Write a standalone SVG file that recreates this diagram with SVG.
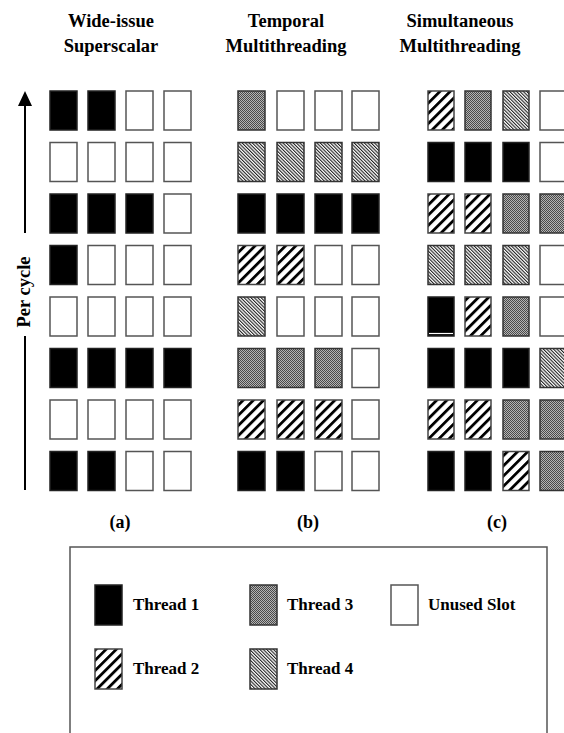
<svg xmlns="http://www.w3.org/2000/svg" width="564" height="733" viewBox="0 0 564 733">
<style>
text{font-family:"Liberation Serif","Times New Roman",serif;font-weight:bold;fill:#000}
.title{font-size:18.5px;text-anchor:middle}
.lab{font-size:18px;text-anchor:middle}
.leg{font-size:17px}
.c{stroke-width:1.5}
.t1{fill:#000;stroke:#222}
.t2{fill:url(#p2);stroke:#444}
.t3{fill:url(#p3);stroke:#333}
.t4{fill:url(#p4);stroke:#333}
.u{fill:#fff;stroke:#555}
</style>
<defs>
<pattern id="p2" patternUnits="userSpaceOnUse" width="7.2" height="7.2" patternTransform="rotate(45)">
<rect width="7.2" height="7.2" fill="#fff"/>
<rect width="2.8" height="7.2" fill="#000"/>
</pattern>
<pattern id="p3" patternUnits="userSpaceOnUse" width="2" height="2">
<rect width="2" height="2" fill="#b4b4b4"/>
<rect width="1" height="1" fill="#4a4a4a"/>
<rect x="1" y="1" width="1" height="1" fill="#4a4a4a"/>
</pattern>
<pattern id="p4" patternUnits="userSpaceOnUse" width="2.4" height="2.4" patternTransform="rotate(-45)">
<rect width="2.4" height="2.4" fill="#fff"/>
<rect width="1.1" height="2.4" fill="#222"/>
</pattern>
</defs>

<g id="titles">
<text class="title" x="111" y="27">Wide-issue</text>
<text class="title" x="111" y="52">Superscalar</text>
<text class="title" x="286" y="27">Temporal</text>
<text class="title" x="286" y="52">Multithreading</text>
<text class="title" x="460" y="27">Simultaneous</text>
<text class="title" x="460" y="52">Multithreading</text>
</g>

<g id="connectors">
<line x1="25" y1="233" x2="25" y2="104" stroke="#000" stroke-width="2"/>
<polygon points="25,91 18,106 32,106" fill="#000"/>
<line x1="25" y1="336" x2="25" y2="490" stroke="#000" stroke-width="2"/>
</g>
<g id="axis-label">
<text class="lab" transform="translate(30,292) rotate(-90)" style="font-size:18.5px">Per cycle</text>
</g>

<g id="grid-a">
<rect class="c t1" x="50" y="91" width="27" height="39"/>
<rect class="c t1" x="88" y="91" width="27" height="39"/>
<rect class="c u" x="126" y="91" width="27" height="39"/>
<rect class="c u" x="164" y="91" width="27" height="39"/>

<rect class="c u" x="50" y="142.5" width="27" height="39"/>
<rect class="c u" x="88" y="142.5" width="27" height="39"/>
<rect class="c u" x="126" y="142.5" width="27" height="39"/>
<rect class="c u" x="164" y="142.5" width="27" height="39"/>

<rect class="c t1" x="50" y="194" width="27" height="39"/>
<rect class="c t1" x="88" y="194" width="27" height="39"/>
<rect class="c t1" x="126" y="194" width="27" height="39"/>
<rect class="c u" x="164" y="194" width="27" height="39"/>

<rect class="c t1" x="50" y="245.5" width="27" height="39"/>
<rect class="c u" x="88" y="245.5" width="27" height="39"/>
<rect class="c u" x="126" y="245.5" width="27" height="39"/>
<rect class="c u" x="164" y="245.5" width="27" height="39"/>

<rect class="c u" x="50" y="297" width="27" height="39"/>
<rect class="c u" x="88" y="297" width="27" height="39"/>
<rect class="c u" x="126" y="297" width="27" height="39"/>
<rect class="c u" x="164" y="297" width="27" height="39"/>

<rect class="c t1" x="50" y="348.5" width="27" height="39"/>
<rect class="c t1" x="88" y="348.5" width="27" height="39"/>
<rect class="c t1" x="126" y="348.5" width="27" height="39"/>
<rect class="c t1" x="164" y="348.5" width="27" height="39"/>

<rect class="c u" x="50" y="400" width="27" height="39"/>
<rect class="c u" x="88" y="400" width="27" height="39"/>
<rect class="c u" x="126" y="400" width="27" height="39"/>
<rect class="c u" x="164" y="400" width="27" height="39"/>

<rect class="c t1" x="50" y="451.5" width="27" height="39"/>
<rect class="c t1" x="88" y="451.5" width="27" height="39"/>
<rect class="c u" x="126" y="451.5" width="27" height="39"/>
<rect class="c u" x="164" y="451.5" width="27" height="39"/>
<text class="lab" x="120" y="528">(a)</text>
</g>

<g id="grid-b">
<rect class="c t3" x="238" y="91" width="27" height="39"/>
<rect class="c u" x="277" y="91" width="27" height="39"/>
<rect class="c u" x="315" y="91" width="27" height="39"/>
<rect class="c u" x="352" y="91" width="27" height="39"/>

<rect class="c t4" x="238" y="142.5" width="27" height="39"/>
<rect class="c t4" x="277" y="142.5" width="27" height="39"/>
<rect class="c t4" x="315" y="142.5" width="27" height="39"/>
<rect class="c t4" x="352" y="142.5" width="27" height="39"/>

<rect class="c t1" x="238" y="194" width="27" height="39"/>
<rect class="c t1" x="277" y="194" width="27" height="39"/>
<rect class="c t1" x="315" y="194" width="27" height="39"/>
<rect class="c t1" x="352" y="194" width="27" height="39"/>

<rect class="c t2" x="238" y="245.5" width="27" height="39"/>
<rect class="c t2" x="277" y="245.5" width="27" height="39"/>
<rect class="c u" x="315" y="245.5" width="27" height="39"/>
<rect class="c u" x="352" y="245.5" width="27" height="39"/>

<rect class="c t4" x="238" y="297" width="27" height="39"/>
<rect class="c u" x="277" y="297" width="27" height="39"/>
<rect class="c u" x="315" y="297" width="27" height="39"/>
<rect class="c u" x="352" y="297" width="27" height="39"/>

<rect class="c t3" x="238" y="348.5" width="27" height="39"/>
<rect class="c t3" x="277" y="348.5" width="27" height="39"/>
<rect class="c t3" x="315" y="348.5" width="27" height="39"/>
<rect class="c u" x="352" y="348.5" width="27" height="39"/>

<rect class="c t2" x="238" y="400" width="27" height="39"/>
<rect class="c t2" x="277" y="400" width="27" height="39"/>
<rect class="c t2" x="315" y="400" width="27" height="39"/>
<rect class="c u" x="352" y="400" width="27" height="39"/>

<rect class="c t1" x="238" y="451.5" width="27" height="39"/>
<rect class="c t1" x="277" y="451.5" width="27" height="39"/>
<rect class="c u" x="315" y="451.5" width="27" height="39"/>
<rect class="c u" x="352" y="451.5" width="27" height="39"/>
<text class="lab" x="308" y="528">(b)</text>
</g>

<g id="grid-c">
<rect class="c t2" x="428" y="91" width="26" height="39"/>
<rect class="c t3" x="465" y="91" width="26" height="39"/>
<rect class="c t4" x="503" y="91" width="26" height="39"/>
<rect class="c u" x="540" y="91" width="27" height="39"/>

<rect class="c t1" x="428" y="142.5" width="26" height="39"/>
<rect class="c t1" x="465" y="142.5" width="26" height="39"/>
<rect class="c t1" x="503" y="142.5" width="26" height="39"/>
<rect class="c u" x="540" y="142.5" width="27" height="39"/>

<rect class="c t2" x="428" y="194" width="26" height="39"/>
<rect class="c t2" x="465" y="194" width="26" height="39"/>
<rect class="c t3" x="503" y="194" width="26" height="39"/>
<rect class="c t3" x="540" y="194" width="27" height="39"/>

<rect class="c t4" x="428" y="245.5" width="26" height="39"/>
<rect class="c t4" x="465" y="245.5" width="26" height="39"/>
<rect class="c t4" x="503" y="245.5" width="26" height="39"/>
<rect class="c u" x="540" y="245.5" width="27" height="39"/>

<rect class="c t1" x="428" y="297" width="26" height="39"/>
<line x1="429" y1="333.5" x2="453" y2="333.5" stroke="#fff" stroke-width="1.2"/>
<rect class="c t2" x="465" y="297" width="26" height="39"/>
<rect class="c t3" x="503" y="297" width="26" height="39"/>
<rect class="c u" x="540" y="297" width="27" height="39"/>

<rect class="c t1" x="428" y="348.5" width="26" height="39"/>
<rect class="c t1" x="465" y="348.5" width="26" height="39"/>
<rect class="c t1" x="503" y="348.5" width="26" height="39"/>
<rect class="c t4" x="540" y="348.5" width="27" height="39"/>

<rect class="c t2" x="428" y="400" width="26" height="39"/>
<rect class="c t2" x="465" y="400" width="26" height="39"/>
<rect class="c t3" x="503" y="400" width="26" height="39"/>
<rect class="c t3" x="540" y="400" width="27" height="39"/>

<rect class="c t1" x="428" y="451.5" width="26" height="39"/>
<rect class="c t1" x="465" y="451.5" width="26" height="39"/>
<rect class="c t2" x="503" y="451.5" width="26" height="39"/>
<rect class="c t3" x="540" y="451.5" width="27" height="39"/>
<text class="lab" x="497" y="528">(c)</text>
</g>

<g id="legend">
<rect x="70" y="547" width="477" height="200" fill="none" stroke="#555" stroke-width="1.5"/>
<rect class="c t1" x="95" y="585" width="27" height="40"/>
<text class="leg" x="133" y="610">Thread 1</text>
<rect class="c t3" x="250" y="585" width="27" height="40"/>
<text class="leg" x="287" y="610">Thread 3</text>
<rect class="c u" x="391" y="585" width="27" height="40"/>
<text class="leg" x="428" y="610">Unused Slot</text>
<rect class="c t2" x="95" y="649" width="27" height="40"/>
<text class="leg" x="133" y="674">Thread 2</text>
<rect class="c t4" x="250" y="649" width="27" height="40"/>
<text class="leg" x="287" y="674">Thread 4</text>
</g>
</svg>
